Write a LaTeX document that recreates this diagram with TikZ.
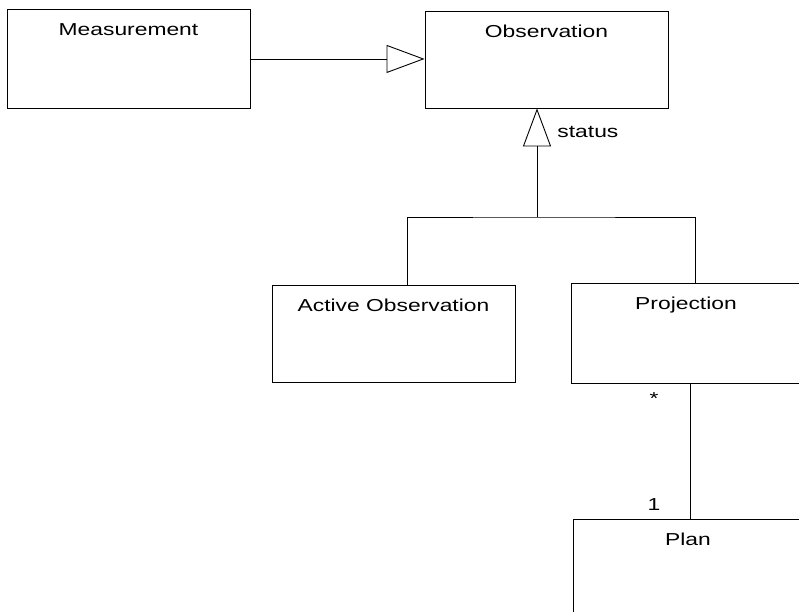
\documentclass[tikz,border=0pt]{standalone}
\usepackage{fontspec}
\setmainfont[FakeStretch=1.32]{Liberation Sans}
\usetikzlibrary{arrows.meta,calc}

\begin{document}
\begin{tikzpicture}[x=1pt, y=-1pt, line width=0.9pt,
	class/.style={draw, rectangle, inner sep=0pt, minimum width=243pt, text height=26.5pt, text depth=70pt, anchor=north},
	inherit/.style={-{Triangle[open, length=38pt, width=28pt]}}]
	\tikzstyle{every node}=[font=\fontsize{17.3}{20}\selectfont]
	\clip (0,0) rectangle (799,611);
	% classes
	\node[class, text depth=72.5pt] (meas) at (128.5,9) {Measurement};
	\node[class] (obs) at (546.5,11) {Observation};
	\node[class] (active) at (393.5,285) {Active Observation};
	\node[class, minimum width=230pt, text depth=73.5pt] (proj) at (686,283) {Projection};
	\node[class, minimum width=230pt, text depth=72pt] (plan) at (688,519) {Plan};
	% generalisations
	\draw[inherit] (meas.east) -- (meas.east -| obs.west);
	\coordinate (split) at ([xshift=-9.5pt]obs.south |- 0,217);
	\draw[inherit] (split) -- ([xshift=-9.5pt]obs.south);
	\draw ([xshift=13.5pt]active.north) |- (split) -| ([xshift=9pt]proj.north);
	\node[anchor=base west, inner sep=0pt] (status) at (557,137) {status};
	% association
	\draw ([xshift=4pt]proj.south) -- ([xshift=4pt]proj.south |- plan.north);
	\node[anchor=base, inner sep=0pt] (many) at (654,404) {*};
	\node[anchor=base, inner sep=0pt] (one) at (654,510) {1};
\end{tikzpicture}
\end{document}
